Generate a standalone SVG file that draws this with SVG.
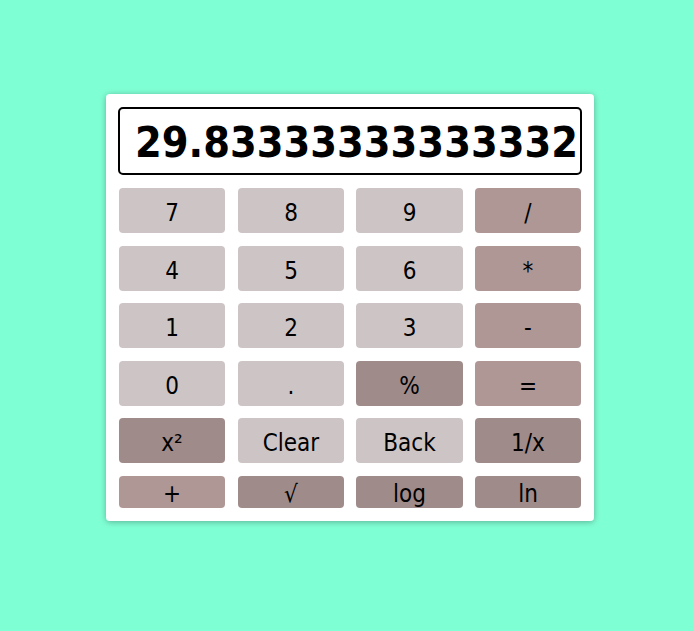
<svg xmlns="http://www.w3.org/2000/svg" width="693" height="631" viewBox="0 0 693 631">
<defs>
<filter id="sh" x="-10%" y="-10%" width="120%" height="120%">
<feDropShadow dx="0" dy="1" stdDeviation="3" flood-color="#000" flood-opacity="0.3"/>
</filter>
<filter id="inset" x="0" y="0" width="100%" height="100%">
<feFlood flood-color="#000" flood-opacity="0.45" result="f"/>
<feComposite in="f" in2="SourceAlpha" operator="out" result="o"/>
<feGaussianBlur in="o" stdDeviation="3" result="b"/>
<feOffset dx="1" dy="1" result="ob"/>
<feComposite in="ob" in2="SourceAlpha" operator="in" result="s"/>
<feMerge><feMergeNode in="SourceGraphic"/><feMergeNode in="s"/></feMerge>
</filter>
</defs>
<style>
.k rect{rx:4px;ry:4px}
.l rect{fill:#cdc5c5}
.o rect{fill:#af9795}
.d rect{fill:#9f8b8a}
.k text{font-family:"DejaVu Sans Condensed","DejaVu Sans","Liberation Sans",sans-serif;font-stretch:condensed;font-size:24px;text-anchor:middle;fill:#000}
</style>
<rect width="693" height="631" fill="#7fffd4"/>
<g id="card"><rect x="106" y="94" width="488" height="427" rx="4" fill="#fff" filter="url(#sh)"/></g>
<g id="display">
<rect x="119" y="108" width="462" height="66" rx="4" fill="#fff" filter="url(#inset)"/>
<rect x="119" y="108" width="462" height="66" rx="4" fill="none" stroke="#000" stroke-width="2"/>
<text x="135" y="157" font-family="DejaVu Sans Condensed,DejaVu Sans,sans-serif" font-stretch="condensed" font-weight="bold" font-size="42" textLength="443" lengthAdjust="spacingAndGlyphs">29.83333333333332</text>
</g>
<g id="b7" class="k l"><rect x="119" y="188" width="106" height="45"/><text x="172" y="221">7</text></g>
<g id="b8" class="k l"><rect x="238" y="188" width="106" height="45"/><text x="291" y="221">8</text></g>
<g id="b9" class="k l"><rect x="356" y="188" width="107" height="45"/><text x="409.5" y="221">9</text></g>
<g id="bdiv" class="k o"><rect x="475" y="188" width="106" height="45"/><text x="528" y="221">/</text></g>
<g id="b4" class="k l"><rect x="119" y="246" width="106" height="45"/><text x="172" y="279">4</text></g>
<g id="b5" class="k l"><rect x="238" y="246" width="106" height="45"/><text x="291" y="279">5</text></g>
<g id="b6" class="k l"><rect x="356" y="246" width="107" height="45"/><text x="409.5" y="279">6</text></g>
<g id="bmul" class="k o"><rect x="475" y="246" width="106" height="45"/><text x="528" y="279">*</text></g>
<g id="b1" class="k l"><rect x="119" y="303" width="106" height="45"/><text x="172" y="336">1</text></g>
<g id="b2" class="k l"><rect x="238" y="303" width="106" height="45"/><text x="291" y="336">2</text></g>
<g id="b3" class="k l"><rect x="356" y="303" width="107" height="45"/><text x="409.5" y="336">3</text></g>
<g id="bsub" class="k o"><rect x="475" y="303" width="106" height="45"/><text x="528" y="336">-</text></g>
<g id="b0" class="k l"><rect x="119" y="361" width="106" height="45"/><text x="172" y="394">0</text></g>
<g id="bdot" class="k l"><rect x="238" y="361" width="106" height="45"/><text x="291" y="394">.</text></g>
<g id="bpct" class="k d"><rect x="356" y="361" width="107" height="45"/><text x="409.5" y="394">%</text></g>
<g id="beq" class="k o"><rect x="475" y="361" width="106" height="45"/><text x="528" y="394">=</text></g>
<g id="bsq" class="k d"><rect x="119" y="418" width="106" height="45"/><text x="172" y="451">x²</text></g>
<g id="bclr" class="k l"><rect x="238" y="418" width="106" height="45"/><text x="291" y="451">Clear</text></g>
<g id="bback" class="k l"><rect x="356" y="418" width="107" height="45"/><text x="409.5" y="451">Back</text></g>
<g id="binv" class="k d"><rect x="475" y="418" width="106" height="45"/><text x="528" y="451">1/x</text></g>
<g id="badd" class="k o"><rect x="119" y="476" width="106" height="32"/><text x="172" y="502">+</text></g>
<g id="bsqrt" class="k d"><rect x="238" y="476" width="106" height="32"/><text x="291" y="502">√</text></g>
<g id="blog" class="k d"><rect x="356" y="476" width="107" height="32"/><text x="409.5" y="502">log</text></g>
<g id="bln" class="k d"><rect x="475" y="476" width="106" height="32"/><text x="528" y="502">ln</text></g>
<g id="connectors"/>
</svg>
